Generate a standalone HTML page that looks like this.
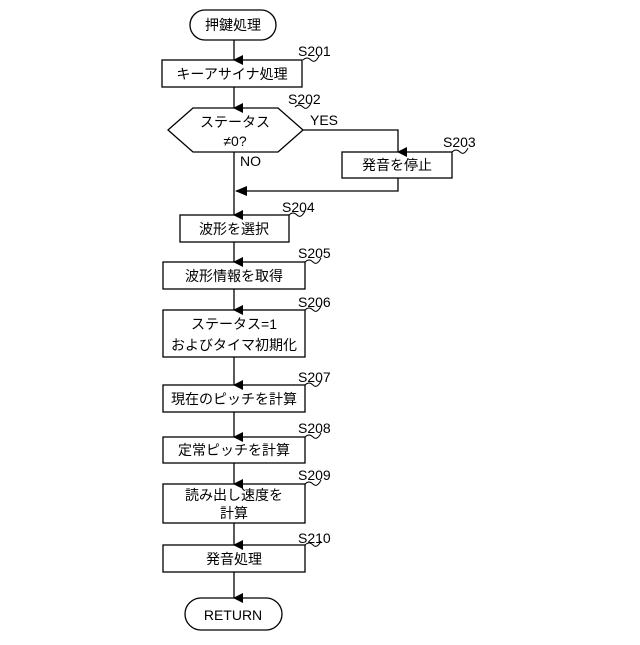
<!DOCTYPE html>
<html><head><meta charset="utf-8"><style>body{margin:0;background:#fff}</style></head><body>
<svg width="640" height="640" viewBox="0 0 640 640" xmlns="http://www.w3.org/2000/svg" font-family="'Liberation Sans','Noto Sans CJK JP',sans-serif" font-size="14">
<defs><marker id="a" markerWidth="10" markerHeight="10" refX="5" refY="9" orient="auto" markerUnits="userSpaceOnUse"><path d="M0,0 L10,0 L5,10 z" fill="#000"/></marker>
<marker id="l" markerWidth="12" markerHeight="10" refX="11" refY="5" orient="auto" markerUnits="userSpaceOnUse"><path d="M0,0 L12,5 L0,10 z" fill="#000"/></marker></defs>
<g fill="none" stroke="#000" stroke-width="1.3">
<rect x="190" y="10" width="86" height="30" rx="15"/>
<rect x="162" y="60" width="140" height="27"/>
<polygon points="168,130 193,108 278,108 303,130 278,152 193,152"/>
<rect x="342" y="152" width="110" height="26"/>
<rect x="180" y="215" width="109" height="27"/>
<rect x="163" y="262" width="142" height="27"/>
<rect x="163" y="310" width="142" height="47"/>
<rect x="163" y="385" width="142" height="27"/>
<rect x="163" y="437" width="142" height="26"/>
<rect x="163" y="484" width="142" height="39"/>
<rect x="163" y="545" width="142" height="27"/>
<rect x="185" y="598" width="97" height="32" rx="16"/>
<line x1="234" y1="40" x2="234" y2="60" marker-end="url(#a)"/>
<line x1="234" y1="87" x2="234" y2="108" marker-end="url(#a)"/>
<polyline points="303,130 398,130 398,152" marker-end="url(#a)"/>
<polyline points="398,178 398,191 236,191" marker-end="url(#l)"/>
<line x1="234" y1="152" x2="234" y2="215" marker-end="url(#a)"/>
<line x1="234" y1="242" x2="234" y2="262" marker-end="url(#a)"/>
<line x1="234" y1="289" x2="234" y2="310" marker-end="url(#a)"/>
<line x1="234" y1="357" x2="234" y2="385" marker-end="url(#a)"/>
<line x1="234" y1="412" x2="234" y2="437" marker-end="url(#a)"/>
<line x1="234" y1="463" x2="234" y2="484" marker-end="url(#a)"/>
<line x1="234" y1="523" x2="234" y2="545" marker-end="url(#a)"/>
<line x1="234" y1="572" x2="234" y2="598" marker-end="url(#a)"/>
<g stroke-width="1">
<path d="M303,60 q4,-4 8,0 t8,-4 "/>
<path d="M295,107 q4,-4 8,0 t8,-4"/>
<path d="M452,152 q4,-4 8,0 t8,-4"/>
<path d="M289,215 q4,-4 8,0 t8,-4"/>
<path d="M305,262 q4,-4 8,0 t8,-4"/>
<path d="M305,310 q4,-4 8,0 t8,-4"/>
<path d="M305,385 q4,-4 8,0 t8,-4"/>
<path d="M305,437 q4,-4 8,0 t8,-4"/>
<path d="M305,484 q4,-4 8,0 t8,-4"/>
<path d="M305,545 q4,-4 8,0 t8,-4"/>
</g></g>
<g text-anchor="middle" fill="#000">
<text x="233" y="30">押鍵処理</text>
<text x="232" y="79">キーアサイナ処理</text>
<text x="235" y="127">ステータス</text>
<text x="235" y="146">≠0?</text>
<text x="397" y="170">発音を停止</text>
<text x="234" y="234">波形を選択</text>
<text x="234" y="281">波形情報を取得</text>
<text x="234" y="329">ステータス=1</text>
<text x="234" y="350">およびタイマ初期化</text>
<text x="234" y="404">現在のピッチを計算</text>
<text x="234" y="455">定常ピッチを計算</text>
<text x="234" y="500">読み出し速度を</text>
<text x="234" y="518">計算</text>
<text x="234" y="564">発音処理</text>
<text x="233" y="620">RETURN</text>
</g>
<g fill="#000">
<text x="298" y="56">S201</text>
<text x="288" y="104">S202</text>
<text x="310" y="125">YES</text>
<text x="240" y="166">NO</text>
<text x="443" y="147">S203</text>
<text x="282" y="212">S204</text>
<text x="298" y="258">S205</text>
<text x="298" y="307">S206</text>
<text x="298" y="382">S207</text>
<text x="298" y="433">S208</text>
<text x="298" y="480">S209</text>
<text x="298" y="543">S210</text>
</g>
</svg>
</body></html>
